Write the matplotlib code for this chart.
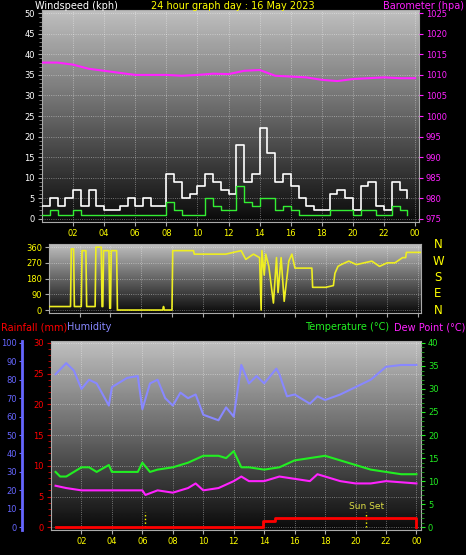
import matplotlib
matplotlib.use("Agg")
import matplotlib.pyplot as plt
import numpy as np

hours = list(range(25))
xticks = [2, 4, 6, 8, 10, 12, 14, 16, 18, 20, 22, 24]
xlabels = ['02', '04', '06', '08', '10', '12', '14', '16', '18', '20', '22', '00']

# barometer hpa, hourly
baro = [1013, 1013, 1012.5, 1011.5, 1011, 1010.5, 1010, 1010, 1010, 1009.8, 1010, 1010.3,
        1010.2, 1011, 1011.2, 1009.8, 1009.6, 1009.4, 1008.8, 1008.5, 1009, 1009.2, 1009.4, 1009.2, 1009.2]

# wind, half-hourly (kph)
wind_t = [i * 0.5 for i in range(48)]
gust = [3, 5, 3, 5, 7, 3, 7, 3, 2, 2, 3, 5, 3, 5, 3, 3, 11, 9, 5, 6, 8, 11, 9, 7,
        6, 18, 9, 11, 22, 16, 9, 11, 8, 5, 3, 2, 2, 6, 7, 5, 2, 8, 9, 3, 2, 9, 7, 5]
avg = [1, 2, 1, 1, 2, 1, 1, 1, 1, 1, 1, 1, 1, 1, 1, 1, 4, 2, 1, 1, 1, 5, 3, 2,
       2, 8, 4, 3, 5, 5, 2, 3, 2, 1, 1, 1, 1, 2, 2, 2, 1, 2, 2, 1, 1, 3, 2, 1]

# wind direction (hour, degrees)
dir_t = [0.0, 1.4, 1.45, 1.6, 1.65, 1.8, 2.1, 2.15, 2.4, 2.45, 3.0, 3.05, 3.4, 3.45, 3.5, 3.55,
         3.9, 3.95, 4.0, 4.05, 4.4, 4.45, 7.4, 7.45, 7.5, 8.0, 8.05, 9.4, 9.45, 11.5, 12.5, 12.8,
         13.3, 13.7, 13.8, 13.85, 14.0, 14.1, 14.3, 14.6, 14.8, 14.9, 15.1, 15.3, 15.6, 15.8, 16.0,
         17.1, 17.15, 18.0, 18.5, 18.6, 18.8, 19.0, 19.5, 20.0, 21.0, 21.5, 22.0, 22.5, 23.0,
         23.2, 23.25, 24.2]
dir_v = [20, 20, 350, 350, 20, 20, 20, 340, 340, 20, 20, 360, 360, 20, 20, 340,
         340, 10, 10, 340, 340, 0, 0, 20, 0, 0, 340, 340, 320, 320, 340, 290,
         320, 300, 0, 340, 200, 320, 250, 40, 300, 100, 300, 50, 280, 320, 240,
         240, 130, 130, 140, 210, 250, 260, 280, 260, 280, 250, 270, 270, 300,
         300, 330, 330]

# bottom panel
hum_t = [0.3, 1, 1.5, 2, 2.5, 3, 3.8, 4, 5, 5.7, 6, 6.5, 7, 7.5, 8, 8.5, 9, 9.5, 10, 11,
         11.5, 12, 12.5, 13, 13.5, 14, 14.8, 15, 15.5, 16, 17, 17.5, 18, 19, 20, 21, 22, 23, 24]
hum = [83, 89, 85, 75, 80, 78, 66, 76, 81, 82, 64, 78, 80, 70, 66, 73, 70, 72, 61, 58,
       65, 60, 88, 78, 82, 78, 86, 83, 71, 72, 67, 71, 69, 72, 76, 80, 87, 88, 88]
temp_t = [0.3, 0.6, 1, 2, 2.5, 3, 3.8, 4, 5, 5.7, 6, 6.5, 7, 8, 9, 10, 11, 11.5, 12, 12.5,
          13, 14, 15, 16, 17, 18, 19, 20, 21, 22, 23, 24]
temp = [12, 11, 11, 13, 13, 12, 13.5, 12, 12, 12, 14, 12, 12.5, 13, 14, 15.5, 15.5, 15,
        16.5, 13, 13, 12.5, 13, 14.5, 15, 15.5, 14.5, 13.5, 12.5, 12, 11.5, 11.5]
dew_t = [0.3, 1, 2, 4, 6, 6.2, 7, 8, 9, 9.5, 10, 11, 12, 12.5, 13, 14, 15, 16, 17, 17.5,
         18, 19, 20, 21, 22, 24]
dew = [9, 8.5, 8, 8, 8, 7, 8, 7.5, 8.5, 9.5, 8, 8.5, 10, 11, 10, 10, 11, 10.5, 10, 11.5,
       11, 10, 9.5, 9.5, 10, 9.5]
rain_t = [0.3, 13.9, 13.9, 14.7, 14.7, 24.0, 24.0]
rain = [0, 0, 1.0, 1.0, 1.5, 1.5, 0]
sunrise = 6.2
sunset = 20.7

plt.rcParams['font.family'] = ['DejaVu Sans']
fig = plt.figure(figsize=(4.66, 5.55), dpi=100, facecolor='black')
W, H = 466, 555
FS = 7.0
TS = 6

def make_ax(x0, y0, x1, y1):
    ax = fig.add_axes([x0 / W, 1 - y1 / H, (x1 - x0) / W, (y1 - y0) / H])
    grad = np.linspace(0.75, 0.04, 200).reshape(-1, 1)
    ax.imshow(grad, cmap='gray', vmin=0, vmax=1, aspect='auto', extent=[0, 1, 0, 1],
              transform=ax.transAxes, zorder=0)
    ax.set_facecolor('black')
    for s in ax.spines.values():
        s.set_color('#aaaaaa')
    ax.grid(True, color='white', linestyle=':', linewidth=0.6, alpha=0.5)
    ax.tick_params(labelsize=TS, length=3, colors='#aaaaaa', pad=2)
    return ax

# top panel
ax1 = make_ax(42, 10, 419, 222)
ax1.set_xlim(0, 24.25)
ax1.set_ylim(-0.8, 50.8)
ax1.step(wind_t, gust, where='post', color='white', lw=1.2, zorder=3)
ax1.step(wind_t, avg, where='post', color='#33ee33', lw=1.0, zorder=4)
ax1.set_yticks(range(0, 51, 5))
ax1.set_yticks(np.arange(0, 51, 1), minor=True)
ax1.tick_params(axis='y', which='minor', length=2, color='#888888')
ax1.tick_params(axis='y', labelcolor='white')
ax1.set_xticks(xticks)
ax1.set_xticklabels(xlabels, color='yellow')
b1 = ax1.twinx()
b1.set_ylim(975 - 0.8, 1025.8)
b1.plot(hours, baro, color='#ff22ff', lw=1.5, zorder=5)
b1.set_yticks(range(975, 1026, 5))
b1.tick_params(labelsize=TS, colors='#ff22ff', length=3, pad=2)
for s in b1.spines.values():
    s.set_visible(False)
fig.text(35 / W, 1 - 6 / H, 'Windspeed (kph)', color='white', fontsize=FS, va='center')
fig.text(0.5, 1 - 6 / H, '24 hour graph day : 16 May 2023', color='yellow', fontsize=FS,
         va='center', ha='center')
fig.text(464 / W, 1 - 6 / H, 'Barometer (hpa)', color='#ff22ff', fontsize=FS, va='center', ha='right')

# middle panel
ax2 = make_ax(49, 244, 421, 313)
ax2.set_xlim(0, 24.2)
ax2.set_ylim(-17, 378)
ax2.plot(dir_t, dir_v, color='#eeee22', lw=1.2, zorder=3)
ax2.set_yticks([0, 90, 180, 270, 360])
ax2.tick_params(axis='y', labelcolor='yellow')
ax2.set_xticks(xticks)
ax2.tick_params(axis='x', labelbottom=False)
for i, c in enumerate(['N', 'W', 'S', 'E', 'N']):
    fig.text(438 / W, 1 - (245 + i * 16.3) / H, c, color='yellow', fontsize=8.5, ha='center', va='center')

# bottom panel
fig.text(1 / W, 1 - 327 / H, 'Rainfall (mm)', color='red', fontsize=FS, va='center')
fig.text(67 / W, 1 - 327 / H, 'Humidity', color='#8888ff', fontsize=FS, va='center')
fig.text(305 / W, 1 - 327 / H, 'Temperature (°C)', color='#22ee22', fontsize=FS, va='center')
fig.text(465 / W, 1 - 327 / H, 'Dew Point (°C)', color='#ff22ff', fontsize=FS, va='center', ha='right')

ax3 = make_ax(51, 341, 421, 530)
ax3.set_xlim(0, 24.3)
ax3.set_ylim(-0.45, 30.3)
ax3.plot(rain_t, rain, color='red', lw=2, zorder=6)
ax3.set_yticks(range(0, 31, 5))
ax3.set_yticks(range(0, 31, 1), minor=True)
ax3.tick_params(axis='y', which='minor', length=2, color='#cc0000')
ax3.tick_params(axis='y', labelcolor='red', color='#cc0000')
ax3.set_xticks(xticks)
ax3.set_xticklabels(xlabels, color='yellow')
for t in (sunrise, sunset):
    ax3.plot([t, t], [0, 2.4], color='yellow', lw=1, linestyle=':', zorder=5)
ax3.text(sunset, 2.6, 'Sun Set', color='#dddd44', fontsize=6.5, ha='center', va='bottom', zorder=5)

t3 = ax3.twinx()
t3.set_ylim(-0.6, 40.4)
t3.plot(temp_t, temp, color='#22ee22', lw=1.5, zorder=4)
t3.plot(dew_t, dew, color='#ff22ff', lw=1.5, zorder=4)
t3.set_yticks(range(0, 41, 5))
t3.set_yticks(range(0, 41, 1), minor=True)
t3.tick_params(labelsize=TS, colors='#22ee22', length=3, pad=2)
t3.tick_params(which='minor', length=2, color='#22aa22')
for s in t3.spines.values():
    s.set_visible(False)

h3 = ax3.twinx()
h3.set_ylim(-1.5, 101)
h3.plot(hum_t, hum, color='#8888ff', lw=1.5, zorder=3)
h3.yaxis.set_ticks_position('left')
h3.yaxis.set_label_position('left')
h3.spines['left'].set_position(('outward', 21))
h3.spines['left'].set_color('#6666ff')
h3.spines['left'].set_linewidth(2)
for k in ('right', 'top', 'bottom'):
    h3.spines[k].set_visible(False)
h3.set_yticks(range(0, 101, 10))
h3.tick_params(labelsize=TS, colors='#6666ff', length=2, pad=1.5)

fig.savefig('out.png', dpi=100, facecolor='black')
